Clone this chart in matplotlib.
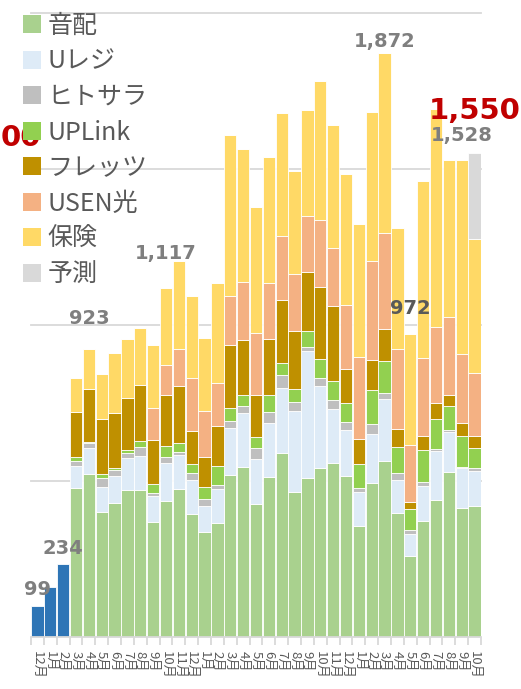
import matplotlib
matplotlib.use("Agg")
import matplotlib.pyplot as plt
from matplotlib.patches import Patch
import numpy as np

plt.rcParams['font.family'] = ['Noto Sans CJK JP', 'DejaVu Sans']

# ---------------- data ----------------
months = ["12月"] + [f"{m}月" for m in range(1, 13)] + [f"{m}月" for m in range(1, 13)] + [f"{m}月" for m in range(1, 11)]

blue_vals = [99, 159, 234]           # first three months (single series)

series_names = ["音配", "Uレジ", "ヒトサラ", "UPLink", "フレッツ", "USEN光", "保険", "予測"]

onpai  = [476, 523, 402, 430, 471, 471, 368, 436, 474, 394, 337, 366, 519, 544, 426, 513,
          589, 466, 511, 543, 559, 517, 356, 493, 564, 398, 260, 372, 439, 529, 415, 420]
ureji  = [72, 84, 78, 87, 102, 109, 84, 121, 109, 109, 83, 108, 152, 175, 144, 174,
          210, 258, 407, 263, 172, 146, 108, 158, 198, 105, 70, 113, 157, 127, 128, 112]
hitosara = [16, 16, 30, 17, 17, 29, 10, 19, 9, 22, 22, 13, 21, 21, 35, 33,
            41, 30, 10, 25, 29, 27, 13, 32, 19, 22, 13, 11, 7, 7, 3, 9]
uplink = [14, 3, 12, 7, 9, 19, 27, 36, 29, 29, 38, 61, 41, 36, 35, 56,
          37, 41, 54, 60, 61, 61, 77, 109, 104, 83, 67, 103, 97, 77, 98, 66]
flets  = [142, 168, 178, 178, 168, 180, 142, 164, 183, 106, 98, 128, 203, 176, 136, 180,
          203, 186, 189, 232, 240, 107, 80, 96, 102, 59, 24, 46, 50, 36, 43, 37]
usen   = [0, 0, 0, 0, 0, 0, 104, 96, 118, 171, 146, 139, 157, 187, 199, 180,
          206, 183, 179, 214, 185, 207, 264, 318, 307, 256, 181, 248, 244, 251, 220, 203]
hoken  = [109, 129, 142, 192, 188, 182, 201, 245, 283, 263, 235, 319, 516, 424, 404, 401,
          392, 331, 339, 446, 395, 419, 426, 478, 578, 387, 357, 570, 698, 502, 621, 428]
yosoku = [0] * 31 + [275]

# value labels: (category index, text, offset above bar in data units, style)
value_labels = [
    (0, "99", 52, "gray"),
    (2, "234", 51, "gray"),
    (4, "923", 99, "gray"),
    (10, "1,117", 111, "gray"),
    (27, "1,872", 38, "gray"),
    (29, "972", 82, "dark"),
    (33, "1,528", 78, "gray"),
    (34, "1,550", 136, "red"),
]
# red label only partly visible at the left edge of the crop
edge_label = "00"

# ---------------- colours ----------------
colors = ["#A9D18E", "#DEEBF7", "#BFBFBF", "#92D050", "#BF9000", "#F4B183", "#FFD966", "#D9D9D9"]
blue = "#2E75B6"
label_colors = {"gray": "#7F7F7F", "dark": "#595959", "red": "#C00000"}

# ---------------- figure ----------------
W, H = 521, 689
fig = plt.figure(figsize=(W / 100, H / 100), dpi=100)
ax = fig.add_axes([31 / W, 52 / H, 450 / W, 624 / H])

n = len(months)
x_all = np.arange(n)
x_blue = x_all[:len(blue_vals)]
x_stack = x_all[len(blue_vals):]

bw = 0.95
ax.bar(x_blue, blue_vals, width=bw, color=blue, edgecolor="white", linewidth=0.6, zorder=2)

stack = [onpai, ureji, hitosara, uplink, flets, usen, hoken, yosoku]
bottom = np.zeros(len(x_stack))
for vals, col in zip(stack, colors):
    v = np.array(vals, dtype=float)
    ax.bar(x_stack, v, bottom=bottom, width=bw, color=col, edgecolor="white", linewidth=0.6, zorder=2)
    bottom += v

totals = np.concatenate([np.array(blue_vals, dtype=float), bottom])

for idx, txt, off, style in value_labels:
    ax.text(idx, totals[idx] + off, txt, ha="center", va="center",
            fontsize=21 if style == "red" else 14, fontweight="bold",
            color=label_colors[style], family="DejaVu Sans", clip_on=False, zorder=5)

fig.text(1 / W, 1 - 138 / H, edge_label, ha="left", va="center", fontsize=21, fontweight="bold",
         color=label_colors["red"], family="DejaVu Sans", zorder=5)

# axes styling
ax.set_xlim(-0.5, n - 0.5)
ax.set_ylim(0, 2000)
for yv in [500, 1000, 1500, 2000]:
    ax.axhline(yv, color="#D9D9D9", lw=1.3, zorder=0, clip_on=False)

for s in ["left", "right", "top"]:
    ax.spines[s].set_visible(False)
ax.spines["bottom"].set_color("#D9D9D9")
ax.spines["bottom"].set_linewidth(1.3)
ax.set_yticks([])

ax.set_xticks(x_all)
ax.set_xticklabels(months, rotation=-90, fontsize=9.5, color="#595959")
ax.tick_params(axis="x", which="major", length=0, pad=10)
ax.set_xticks(np.arange(-0.5, n, 1), minor=True)
ax.tick_params(axis="x", which="minor", length=6, color="#D9D9D9", width=1.3)

handles = [Patch(facecolor=c, edgecolor="none") for c in colors]
leg = fig.legend(handles, series_names, loc="upper left", bbox_to_anchor=(23 / W, 1 - 13 / H),
                 frameon=False, fontsize=18, labelcolor="#595959", handlelength=0.72,
                 handleheight=0.72, handletextpad=0.26, borderpad=0, borderaxespad=0,
                 labelspacing=0.38)

fig.savefig("out.png", dpi=100)
